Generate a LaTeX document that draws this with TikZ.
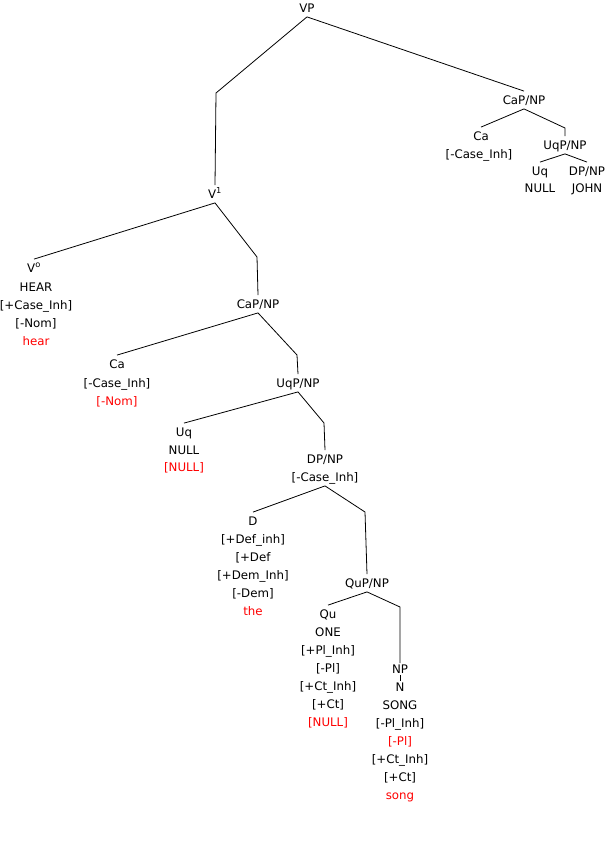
\documentclass[tikz,border=0pt]{standalone}
\usepackage{fontspec}
\setmainfont{DejaVu Sans}
\begin{document}
\begin{tikzpicture}[x=1pt,y=-1pt,
  lab/.style={font=\fontsize{11.8}{14}\selectfont, inner sep=0pt, text height=10.2pt, text depth=1.6pt, outer ysep=3pt, outer xsep=0pt},
  rlab/.style={lab, text=red},
  edge/.style={draw=black, line width=0.8pt}]
\useasboundingbox[fill=white] (0,0) rectangle (609,845);
% top
\node[lab] (vp) at (307,8) {VP};
\coordinate (b1) at (216,93);
\node[lab] (v1) at (215,194) {V\textsuperscript{1}};
% top right
\node[lab] (cap1) at (524,100) {CaP/NP};
\node[lab] (ca1) at (481,136) {Ca};
\node[lab] (ca1f) at (479,154) {[-Case\_Inh]};
\coordinate (b2) at (565,128);
\node[lab] (uqp1) at (565,145) {UqP/NP};
\node[lab] (uq1) at (540,171) {Uq};
\node[lab] (null1) at (540,188) {NULL};
\node[lab] (dp1) at (587,171) {DP/NP};
\node[lab] (john) at (587,188) {JOHN};
% V0
\node[lab] (v0) at (34,268) {V\textsuperscript{o}};
\node[lab] (v0a) at (36,287) {HEAR};
\node[lab] (v0b) at (36,305) {[+Case\_Inh]};
\node[lab] (v0c) at (36,323) {[-Nom]};
\node[rlab] (v0d) at (36,341) {hear};
% CaP/NP
\coordinate (b3) at (257,257);
\node[lab] (cap2) at (258,304) {CaP/NP};
\node[lab] (ca2) at (117,364) {Ca};
\node[lab] (ca2a) at (117,383) {[-Case\_Inh]};
\node[rlab] (ca2b) at (117,401) {[-Nom]};
% UqP/NP
\coordinate (b4) at (297,355);
\node[lab] (uqp2) at (298,383) {UqP/NP};
\node[lab] (uq2) at (184,432) {Uq};
\node[lab] (uq2a) at (184,450) {NULL};
\node[rlab] (uq2b) at (184,467) {[NULL]};
% DP/NP
\coordinate (b5) at (324,423);
\node[lab] (dp2) at (325,459) {DP/NP};
\node[lab] (dp2f) at (325,477) {[-Case\_Inh]};
\node[lab] (d) at (253,521) {D};
\node[lab] (da) at (253,539) {[+Def\_inh]};
\node[lab] (db) at (253,557) {[+Def};
\node[lab] (dc) at (253,575) {[+Dem\_Inh]};
\node[lab] (dd) at (253,593) {[-Dem]};
\node[rlab] (de) at (253,611) {the};
% QuP/NP
\coordinate (b6) at (365,512);
\node[lab] (qup) at (367,583) {QuP/NP};
\node[lab] (qu) at (328,614) {Qu};
\node[lab] (qua) at (328,632) {ONE};
\node[lab] (qub) at (328,650) {[+Pl\_Inh]};
\node[lab] (quc) at (328,668) {[-Pl]};
\node[lab] (qud) at (328,686) {[+Ct\_Inh]};
\node[lab] (que) at (328,704) {[+Ct]};
\node[rlab] (quf) at (328,722) {[NULL]};
% NP
\coordinate (b7) at (400,607);
\node[lab, outer ysep=0pt] (np) at (400,669) {NP};
\node[lab, outer ysep=0pt] (n) at (400,687) {N};
\node[lab] (na) at (400,705) {SONG};
\node[lab] (nb) at (400,723) {[-Pl\_Inh]};
\node[rlab] (nc) at (400,741) {[-Pl]};
\node[lab] (nd) at (400,759) {[+Ct\_Inh]};
\node[lab] (ne) at (400,777) {[+Ct]};
\node[rlab] (nf) at (400,795) {song};
% edges
\draw[edge] (vp.south) -- (b1) -- (v1.north);
\draw[edge] (vp.south) -- (cap1.north);
\draw[edge] (cap1.south) -- (ca1.north);
\draw[edge] (cap1.south) -- (b2) -- (uqp1.north);
\draw[edge] (uqp1.south) -- (uq1.north);
\draw[edge] (uqp1.south) -- (dp1.north);
\draw[edge] (v1.south) -- (v0.north);
\draw[edge] (v1.south) -- (b3) -- (cap2.north);
\draw[edge] (cap2.south) -- (ca2.north);
\draw[edge] (cap2.south) -- (b4) -- (uqp2.north);
\draw[edge] (uqp2.south) -- (uq2.north);
\draw[edge] (uqp2.south) -- (b5) -- (dp2.north);
\draw[edge] (dp2f.south) -- (d.north);
\draw[edge] (dp2f.south) -- (b6) -- (qup.north);
\draw[edge] (qup.south) -- (qu.north);
\draw[edge] (qup.south) -- (b7) -- (np.north);
\draw[edge] (np.south) -- (n.north);
\end{tikzpicture}
\end{document}
